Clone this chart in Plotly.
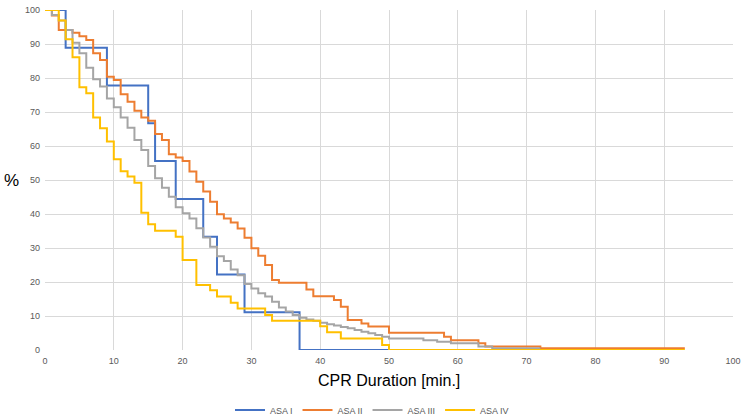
import plotly.graph_objects as go

# ---- data ----
asa1_t = [0, 3, 9, 15, 16, 19, 23, 25, 29, 37, 50]
asa1_s = [100, 88.9, 77.8, 66.7, 55.6, 44.4, 33.3, 22.2, 11.1, 0, 0]

asa2_t = [0, 1, 2, 4, 5, 6, 7, 8, 9, 10, 11, 12, 13, 14, 15, 16, 17, 18, 19, 20,
          21, 22, 23, 24, 25, 26, 27, 28, 29, 30, 31, 32, 33, 34, 38, 39, 42, 43,
          44, 46, 47, 50, 58, 59, 63, 64, 72, 93]
asa2_s = [100, 98.4, 94.1, 93.3, 92.3, 91.2, 87.3, 85.3, 80.4, 79.4, 75.2, 73.0,
          70.4, 68.4, 67.4, 63.5, 61.8, 57.6, 56.6, 55.6, 52.5, 49.5, 46.6, 43.6,
          39.9, 38.7, 37.5, 35.7, 33.0, 29.9, 27.7, 25.0, 20.6, 19.8, 17.8, 15.8,
          14.7, 12.7, 8.8, 7.8, 6.9, 5.1, 3.9, 2.9, 2.0, 1.0, 0.5, 0.5]

asa3_t = [0, 1, 2, 3, 4, 5, 6, 7, 8, 9, 10, 11, 12, 13, 14, 15, 16, 17, 18, 19,
          20, 21, 22, 23, 24, 25, 26, 27, 28, 29, 30, 31, 32, 33, 34, 35, 36, 37,
          38, 39, 40, 41, 42, 43, 44, 45, 46, 47, 48, 49, 50, 55, 57, 59, 63, 65, 72]
asa3_s = [100, 98.5, 96.9, 94.1, 90.4, 87.3, 83.0, 79.6, 77.5, 74.0, 71.4, 68.4,
          65.4, 61.8, 58.8, 54.1, 50.5, 47.7, 45.1, 42.0, 40.2, 38.7, 35.8, 33.1,
          30.4, 27.6, 26.2, 23.7, 22.0, 19.4, 18.1, 16.7, 15.7, 14.2, 12.5, 11.3,
          10.3, 9.5, 9.0, 8.6, 8.0, 7.6, 7.2, 6.8, 6.4, 5.9, 5.4, 4.9, 4.4, 3.9,
          3.4, 2.9, 2.45, 2.0, 1.0, 0.5, 0.5]

asa4_t = [0, 2, 3, 4, 5, 6, 7, 8, 9, 10, 11, 12, 13, 14, 15, 16, 19, 20, 22, 24,
          25, 27, 28, 32, 33, 40, 41, 43, 49, 50, 93]
asa4_s = [100, 96.9, 91.4, 86.1, 77.3, 75.5, 68.4, 65.2, 61.3, 56.1, 52.6, 51.0,
          49.2, 40.4, 37.0, 35.1, 33.3, 26.5, 19.1, 17.6, 15.7, 13.9, 12.2, 10.3,
          8.6, 7.0, 5.2, 3.4, 1.5, 0, 0]

series = [
    ("ASA I", asa1_t, asa1_s, "#4472C4"),
    ("ASA II", asa2_t, asa2_s, "#ED7D31"),
    ("ASA III", asa3_t, asa3_s, "#A5A5A5"),
    ("ASA IV", asa4_t, asa4_s, "#FFC000"),
]

x_ticks = list(range(0, 101, 10))
y_ticks = list(range(0, 101, 10))

fig = go.Figure()
for name, t, s, col in series:
    fig.add_trace(go.Scatter(x=t, y=s, name=name, mode="lines",
                             line=dict(color=col, width=2, shape="hv")))

grid = "#D9D9D9"
fam = "Liberation Sans, Arial, sans-serif"
tickfont = dict(family=fam, size=9, color="#595959")

fig.update_layout(
    width=744, height=418,
    margin=dict(l=45, r=11, t=10, b=68, autoexpand=False),
    paper_bgcolor="white", plot_bgcolor="white",
    showlegend=True,
    legend=dict(orientation="h", xref="container", x=0.5, xanchor="center",
                yref="container", y=0.019, yanchor="middle",
                font=dict(family=fam, size=9, color="#595959"),
                itemwidth=30, tracegroupgap=0, bgcolor="rgba(0,0,0,0)"),
    xaxis=dict(range=[0, 100], tickvals=x_ticks, ticktext=[str(v) for v in x_ticks],
               showgrid=True, gridcolor=grid, gridwidth=1, zeroline=False, showline=False,
               ticks="", tickfont=tickfont, automargin=False, ticklabelstandoff=4),
    yaxis=dict(range=[0, 100], tickvals=y_ticks, ticktext=[str(v) for v in y_ticks],
               showgrid=True, gridcolor=grid, gridwidth=1, zeroline=False, showline=False,
               ticks="", tickfont=tickfont, automargin=False, ticklabelstandoff=4),
    annotations=[
        dict(text="%", xref="paper", yref="paper", x=-0.062, y=0.5,
             xanchor="left", yanchor="middle", showarrow=False,
             font=dict(family=fam, size=17, color="#000000")),
        dict(text="CPR Duration [min.]", xref="paper", yref="paper", x=0.5, y=-0.091,
             xanchor="center", yanchor="middle", showarrow=False,
             font=dict(family=fam, size=16, color="#000000")),
    ],
)

fig.write_html("out.html", config={"displayModeBar": False},
               post_script="document.body.style.margin='0';document.body.style.overflow='hidden';")
